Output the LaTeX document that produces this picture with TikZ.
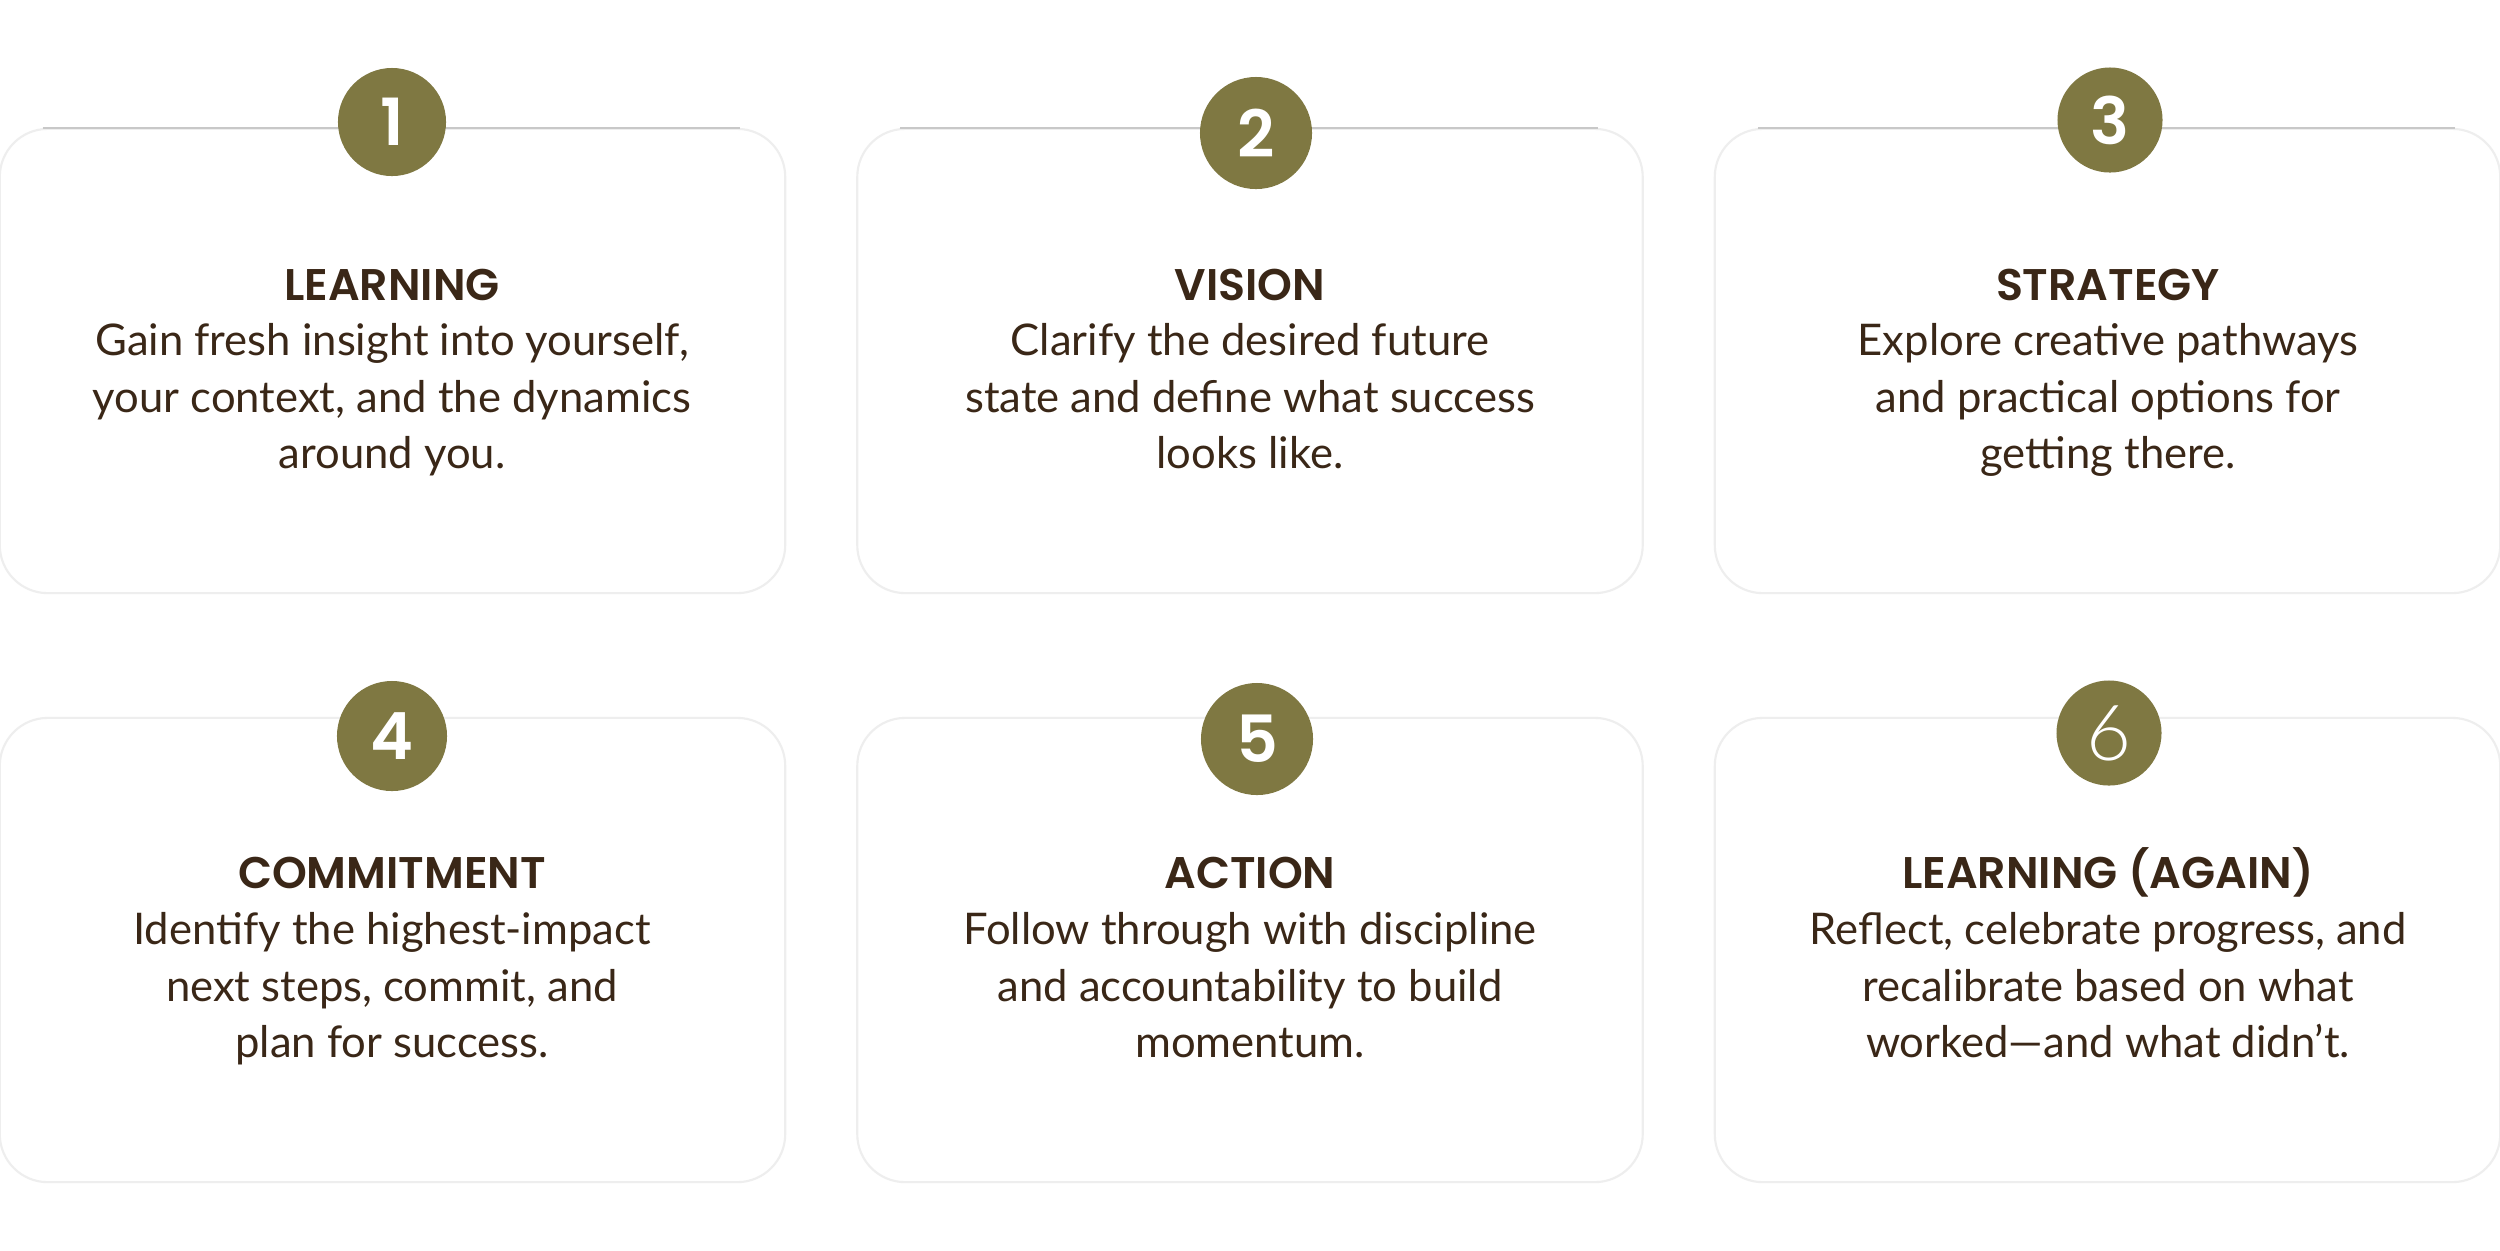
\documentclass[tikz,border=0pt]{standalone}
\usepackage{fontspec}
\setmainfont{Lato}
\newfontfamily\titlefont{Poppins}[UprightFont={* SemiBold}]
\newfontfamily\numfont{Poppins}[UprightFont={* SemiBold}]
\newfontfamily\numlight{Lato}[UprightFont={* Light}]
\definecolor{olive}{HTML}{7F7842}
\definecolor{ink}{HTML}{3A2717}
\definecolor{edge}{HTML}{EEEEEE}
\definecolor{topedge}{HTML}{C8C8C8}
\tikzset{
  card/.style={draw=edge, line width=0.6pt, fill=white, rounded corners=0.48cm,
    minimum width=7.85cm, minimum height=4.64cm, inner sep=0pt},
  topline/.style={draw=topedge, line width=0.7pt},
  badge/.style={circle, fill=olive, inner sep=0pt, text=white,
    font=\numfont\fontsize{18.5}{18.5}\selectfont},
  ttl/.style={anchor=base, inner sep=0pt, text=ink,
    font=\titlefont\fontsize{12.6}{15.93}\selectfont},
  body/.style={anchor=base, inner sep=0pt, text=ink, align=center,
    font=\fontsize{12.4}{15.93}\selectfont}
}
\begin{document}
\begin{tikzpicture}[x=0.01cm,y=-0.01cm]
\useasboundingbox[fill=white] (0,0) rectangle (2500,1250);
% cards
\node[card] (c1) at (392.5,361) {};
\node[card] (c2) at (1250,361) {};
\node[card] (c3) at (2107.5,361) {};
\node[card] (c4) at (392.5,950) {};
\node[card] (c5) at (1250,950) {};
\node[card] (c6) at (2107.5,950) {};
% darker top edges of the first row
\draw[topline] ([xshift=0.44cm]c1.north west) -- ([xshift=-0.46cm]c1.north east);
\draw[topline] ([xshift=0.44cm]c2.north west) -- ([xshift=-0.46cm]c2.north east);
\draw[topline] ([xshift=0.44cm]c3.north west) -- ([xshift=-0.46cm]c3.north east);
% badges
\node[badge, minimum size=1.08cm] (n1) at (392,122) {1};
\node[badge, minimum size=1.12cm] (n2) at (1256,133) {2};
\node[badge, minimum size=1.05cm] (n3) at (2110,120) {3};
\node[badge, minimum size=1.10cm] (n4) at (392,736) {4};
\node[badge, minimum size=1.12cm] (n5) at (1257,739) {5};
\node[badge, minimum size=1.05cm, font=\numlight\fontsize{22}{22}\selectfont] (n6) at (2109,733) {6};
% titles
\node[ttl] (t1) at (392,300) {LEARNING};
\node[ttl] (t2) at (1250,300) {VISION};
\node[ttl] (t3) at (2108,300) {STRATEGY};
\node[ttl] (t4) at (392,888) {COMMITMENT};
\node[ttl] (t5) at (1250,888) {ACTION};
\node[ttl] (t6) at (2108,888) {LEARNING (AGAIN)};
% bodies (base anchor = baseline of the last line)
\node[body] (b1) at (392,468) {Gain fresh insight into yourself,\\your context, and the dynamics\\around you.};
\node[body] (b2) at (1250,468) {Clarify the desired future\\state and define what success\\looks like.};
\node[body] (b3) at (2108,468) {Explore creative pathways\\and practical options for\\getting there.};
\node[body] (b4) at (392,1057) {Identify the highest-impact\\next steps, commit, and\\plan for success.};
\node[body] (b5) at (1250,1057) {Follow through with discipline\\and accountability to build\\momentum.};
\node[body] (b6) at (2108,1057) {Reflect, celebrate progress, and\\recalibrate based on what\\worked—and what didn’t.};
\end{tikzpicture}
\end{document}
